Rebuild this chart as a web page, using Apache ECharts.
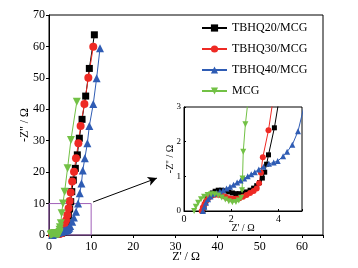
<!DOCTYPE html>
<html>
<head>
<meta charset="utf-8">
<script src="https://cdn.jsdelivr.net/npm/echarts@6/dist/echarts.min.js"></script>
<style>
  html, body { margin: 0; padding: 0; background: #fff; }
  #chart { width: 358px; height: 268px; }
</style>
</head>
<body>
<div id="chart"></div>
<script>
// Nyquist data, [Z', -Z''] in ohm
const tbhq20 = [
  [0.8, 0], [0.85, 0.12], [0.92, 0.24], [1.0, 0.35], [1.1, 0.45], [1.2, 0.52],
  [1.32, 0.57], [1.45, 0.6], [1.6, 0.6], [1.75, 0.58], [1.9, 0.55], [2.05, 0.52],
  [2.2, 0.5], [2.35, 0.5], [2.5, 0.52], [2.65, 0.55], [2.8, 0.6], [2.95, 0.66],
  [3.08, 0.73], [3.2, 0.82], [3.32, 0.95], [3.42, 1.12], [3.5, 1.35], [3.58, 1.62],
  [3.83, 2.4], [4.0, 3.1], [4.3, 4.5], [4.6, 6.2], [4.9, 8.3], [5.15, 10.6],
  [5.4, 13.8], [5.77, 17.5], [6.25, 21.2], [6.72, 25.5], [7.2, 30.8], [7.84, 36.8],
  [8.7, 44.2], [9.57, 53], [10.76, 63.7]
];
const tbhq30 = [
  [0.75, 0], [0.8, 0.1], [0.87, 0.2], [0.95, 0.3], [1.05, 0.38], [1.17, 0.44],
  [1.3, 0.47], [1.45, 0.47], [1.6, 0.45], [1.75, 0.41], [1.9, 0.37], [2.05, 0.35],
  [2.2, 0.35], [2.35, 0.37], [2.5, 0.41], [2.65, 0.46], [2.8, 0.52], [2.95, 0.58],
  [3.08, 0.65], [3.18, 0.8], [3.26, 1.1], [3.34, 1.55], [3.58, 2.33], [3.75, 3.1],
  [4.05, 4.6], [4.35, 6.4], [4.65, 8.5], [4.9, 10.8], [5.15, 13.5], [5.5, 17],
  [5.94, 20.1], [6.4, 24.4], [6.97, 29.2], [7.5, 34.7], [8.4, 41.7], [9.33, 50],
  [10.5, 59.9]
];
const tbhq40 = [
  [0.8, 0], [0.86, 0.12], [0.93, 0.24], [1.02, 0.34], [1.12, 0.42], [1.24, 0.48],
  [1.38, 0.52], [1.52, 0.56], [1.66, 0.6], [1.8, 0.65], [1.95, 0.7], [2.1, 0.76],
  [2.25, 0.82], [2.4, 0.88], [2.55, 0.94], [2.7, 1.0], [2.85, 1.06], [3.0, 1.12],
  [3.17, 1.2], [3.37, 1.28], [3.6, 1.36], [3.8, 1.4], [3.97, 1.44], [4.2, 1.58],
  [4.37, 1.71], [4.59, 1.91], [4.83, 2.3], [5.02, 2.83], [5.5, 4.2], [5.9, 5.6],
  [6.4, 7.4], [6.9, 10], [7.3, 13.3], [7.7, 16.4], [8.0, 20.5], [8.5, 24.4],
  [9.1, 29.2], [9.57, 34.7], [10.5, 41.7], [11.3, 49.9], [12.1, 59.4]
];
const mcg = [
  [0.43, 0], [0.5, 0.12], [0.6, 0.24], [0.72, 0.34], [0.85, 0.41], [1.0, 0.46],
  [1.15, 0.48], [1.3, 0.48], [1.45, 0.45], [1.6, 0.39], [1.75, 0.33], [1.9, 0.28],
  [2.05, 0.25], [2.2, 0.26], [2.32, 0.3], [2.42, 0.38], [2.46, 0.6], [2.48, 0.94],
  [2.51, 1.71], [2.6, 2.5], [2.8, 3.7], [3.0, 6.9], [3.3, 10], [3.7, 13.8],
  [4.4, 21.2], [5.2, 30.2], [6.6, 42.4]
];

const names = ["TBHQ20/MCG", "TBHQ30/MCG", "TBHQ40/MCG", "MCG"];
const colors = ["#000000", "#ee2a24", "#2f5cb4", "#72c145"];
const symbols = ["rect", "circle", "triangle", "triangle"];
const rotates = [0, 0, 0, 180];
const allData = [tbhq20, tbhq30, tbhq40, mcg];

// zoom box and arrow, in main-axis units
const zoomBox = [[0, 0], [10, 10]];
const arrowFrom = [10.45, 10.5];
const arrowTo = [25.6, 18.1];

const font = "Liberation Serif";

function makeSeries(i, axis, size) {
  return {
    name: names[i],
    type: "line",
    xAxisIndex: axis,
    yAxisIndex: axis,
    data: allData[i],
    symbol: symbols[i],
    symbolSize: symbols[i] === "rect" ? size - 1 : size,
    symbolRotate: rotates[i],
    showAllSymbol: true,
    clip: true,
    color: colors[i],
    lineStyle: { width: 1, color: colors[i] },
    itemStyle: { color: colors[i] },
    emphasis: { disabled: true },
    animation: false,
  };
}

const chart = echarts.init(document.getElementById("chart"));

const series = [];
for (let i = 0; i < 4; i++) series.push(makeSeries(i, 0, 8));
for (let i = 0; i < 4; i++) series.push(makeSeries(i, 1, 6));

series[0].markArea = {
  silent: true,
  itemStyle: { color: "rgba(0,0,0,0)", borderColor: "#a060b8", borderWidth: 1 },
  data: [[{ coord: zoomBox[0] }, { coord: zoomBox[1] }]],
};
series[0].markLine = {
  silent: true,
  symbol: ["none", "arrow"],
  symbolSize: [7, 9],
  label: { show: false },
  lineStyle: { color: "#000", width: 1, type: "solid" },
  data: [[{ coord: arrowFrom }, { coord: arrowTo }]],
};

const axisCommon = {
  axisLine: { lineStyle: { color: "#000", width: 1 } },
  axisTick: { inside: false, length: 3, lineStyle: { color: "#000" } },
  splitLine: { show: false },
  nameMoveOverlap: false,
};

chart.setOption({
  animation: false,
  backgroundColor: "#fff",
  textStyle: { fontFamily: font },
  legend: {
    data: names,
    orient: "vertical",
    left: 196,
    top: 17,
    itemWidth: 25,
    itemHeight: 9,
    itemGap: 9,
    textStyle: { fontFamily: font, fontSize: 12, color: "#000" },
  },
  grid: [
    { left: 49, top: 15, width: 274, height: 220, show: true, borderColor: "#000", borderWidth: 1, outerBoundsMode: "none", containLabel: false },
    { left: 184, top: 107, width: 118, height: 104, show: true, borderColor: "#000", borderWidth: 1, backgroundColor: "#fff", outerBoundsMode: "none", containLabel: false },
  ],
  xAxis: [
    {
      ...axisCommon,
      gridIndex: 0,
      type: "value",
      min: 0,
      max: 65,
      interval: 10,
      name: "Z' / Ω",
      nameLocation: "middle",
      nameGap: 16,
      nameTextStyle: { fontFamily: font, fontSize: 12, color: "#000" },
      axisLabel: {
        fontFamily: font, fontSize: 12, color: "#000", margin: 6,
        formatter: (v) => (v % 10 === 0 ? String(v) : ""),
      },
    },
    {
      ...axisCommon,
      gridIndex: 1,
      type: "value",
      min: 0,
      max: 5,
      interval: 2,
      name: "Z' / Ω",
      nameLocation: "middle",
      nameGap: 12,
      nameTextStyle: { fontFamily: font, fontSize: 10, color: "#000" },
      axisTick: { inside: true, length: 2, lineStyle: { color: "#000" } },
      axisLabel: {
        fontFamily: font, fontSize: 10, color: "#000", margin: 3,
        formatter: (v) => (v % 2 === 0 ? String(v) : ""),
      },
    },
  ],
  yAxis: [
    {
      ...axisCommon,
      gridIndex: 0,
      type: "value",
      min: 0,
      max: 70,
      interval: 10,
      name: "-Z'' / Ω",
      nameLocation: "middle",
      nameGap: 18,
      nameTextStyle: { fontFamily: font, fontSize: 12, color: "#000" },
      axisLabel: { fontFamily: font, fontSize: 12, color: "#000", margin: 4 },
    },
    {
      ...axisCommon,
      gridIndex: 1,
      type: "value",
      min: 0,
      max: 3,
      interval: 1,
      name: "-Z'' / Ω",
      nameLocation: "middle",
      nameGap: 9,
      nameTextStyle: { fontFamily: font, fontSize: 10, color: "#000" },
      axisTick: { inside: true, length: 2, lineStyle: { color: "#000" } },
      axisLabel: { fontFamily: font, fontSize: 9, color: "#000", margin: 3 },
    },
  ],
  series: series,
});
</script>
</body>
</html>
